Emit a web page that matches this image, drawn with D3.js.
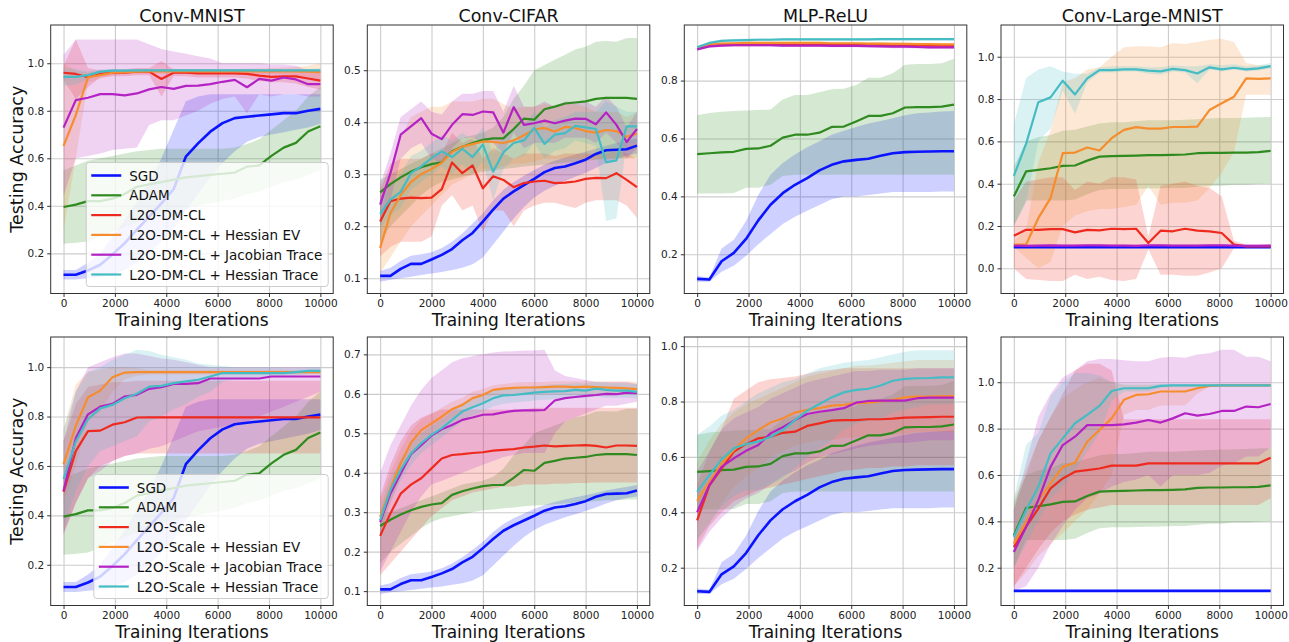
<!DOCTYPE html>
<html>
<head>
<meta charset="utf-8">
<script src="https://cdn.jsdelivr.net/npm/d3@7"></script>
<style>
  body { margin: 0; background: #fff; }
  svg { display: block; font-family: "DejaVu Sans", sans-serif; }
</style>
</head>
<body>
<div id="chart"></div>
<script>
// ---- iteration grids ----
const iters22 = [0,476,952,1429,1905,2381,2857,3333,3810,4286,4762,5238,5714,6190,6667,7143,7619,8095,8571,9048,9524,10000];
const iters26 = [0,400,800,1200,1600,2000,2400,2800,3200,3600,4000,4400,4800,5200,5600,6000,6400,6800,7200,7600,8000,8400,8800,9200,9600,10000];
const xTicks = [0,2000,4000,6000,8000,10000];

const labelsDM = ["SGD","ADAM","L2O-DM-CL","L2O-DM-CL + Hessian EV","L2O-DM-CL + Jacobian Trace","L2O-DM-CL + Hessian Trace"];
const labelsSc = ["SGD","ADAM","L2O-Scale","L2O-Scale + Hessian EV","L2O-Scale + Jacobian Trace","L2O-Scale + Hessian Trace"];

// ---- Conv-MNIST ----
const cmSgd   = [0.11,0.11,0.128,0.152,0.195,0.243,0.30,0.355,0.41,0.47,0.607,0.663,0.712,0.748,0.769,0.775,0.78,0.785,0.79,0.79,0.80,0.808];
const cmSgdLo = [0.09,0.09,0.095,0.10,0.11,0.13,0.16,0.20,0.25,0.30,0.38,0.45,0.52,0.58,0.63,0.67,0.69,0.70,0.71,0.72,0.73,0.745];
const cmSgdHi = [0.13,0.13,0.16,0.20,0.27,0.34,0.42,0.50,0.60,0.72,0.84,0.86,0.87,0.87,0.87,0.87,0.87,0.87,0.87,0.87,0.87,0.87];
const cmAdam   = [0.395,0.405,0.42,0.42,0.43,0.45,0.48,0.49,0.50,0.51,0.52,0.525,0.53,0.535,0.54,0.565,0.57,0.61,0.645,0.665,0.713,0.735];
const cmAdamLo = [0.24,0.245,0.25,0.27,0.29,0.31,0.33,0.35,0.37,0.38,0.39,0.40,0.41,0.42,0.43,0.45,0.46,0.48,0.50,0.51,0.53,0.55];
const cmAdamHi = [0.55,0.57,0.59,0.60,0.61,0.62,0.63,0.635,0.64,0.64,0.64,0.64,0.64,0.64,0.645,0.66,0.68,0.72,0.76,0.80,0.86,0.90];
const cmDm   = [0.96,0.955,0.941,0.955,0.96,0.96,0.965,0.965,0.934,0.96,0.96,0.957,0.957,0.957,0.957,0.955,0.948,0.943,0.945,0.945,0.936,0.927];
const cmDmLo = [0.93,0.85,0.90,0.94,0.945,0.945,0.95,0.95,0.86,0.945,0.945,0.94,0.94,0.94,0.94,0.935,0.925,0.92,0.92,0.915,0.90,0.89];
const cmDmHi = [0.99,1.10,0.98,0.97,0.975,0.975,0.98,0.98,1.01,0.975,0.975,0.975,0.975,0.975,0.975,0.975,0.97,0.965,0.97,0.975,0.97,0.965];
const cmEv   = [0.652,0.782,0.941,0.95,0.96,0.963,0.965,0.966,0.966,0.966,0.966,0.966,0.966,0.966,0.966,0.966,0.966,0.966,0.966,0.966,0.965,0.963];
const cmEvLo = [0.30,0.60,0.92,0.935,0.95,0.955,0.955,0.956,0.956,0.956,0.956,0.956,0.956,0.956,0.956,0.955,0.955,0.955,0.953,0.95,0.94,0.93];
const cmEvHi = [1.0,0.97,0.96,0.965,0.97,0.972,0.975,0.976,0.976,0.976,0.976,0.976,0.976,0.976,0.976,0.977,0.978,0.98,0.982,0.985,0.99,1.0];
const cmJt   = [0.729,0.845,0.855,0.87,0.87,0.865,0.873,0.89,0.90,0.892,0.905,0.906,0.912,0.922,0.93,0.899,0.934,0.927,0.94,0.932,0.912,0.912];
const cmJtLo = [0.44,0.60,0.61,0.62,0.635,0.64,0.645,0.74,0.76,0.76,0.78,0.80,0.83,0.85,0.86,0.79,0.87,0.86,0.87,0.87,0.86,0.86];
const cmJtHi = [1.035,1.10,1.10,1.10,1.10,1.10,1.10,1.08,1.06,1.05,1.04,1.03,1.02,1.0,1.0,1.0,1.0,0.995,0.995,0.99,0.97,0.965];
const cmHt   = [0.943,0.943,0.95,0.965,0.969,0.969,0.97,0.97,0.97,0.97,0.97,0.97,0.97,0.97,0.97,0.97,0.97,0.97,0.97,0.97,0.97,0.97];
const cmHtLo = [0.905,0.91,0.935,0.955,0.962,0.963,0.964,0.964,0.964,0.964,0.964,0.964,0.964,0.964,0.964,0.964,0.964,0.964,0.964,0.964,0.963,0.962];
const cmHtHi = [0.98,0.976,0.965,0.975,0.976,0.975,0.976,0.976,0.976,0.976,0.976,0.976,0.976,0.976,0.976,0.976,0.976,0.976,0.976,0.976,0.977,0.978];
const cmSc   = [0.495,0.66,0.741,0.743,0.767,0.777,0.796,0.797,0.797,0.797,0.797,0.797,0.797,0.797,0.797,0.797,0.797,0.797,0.797,0.797,0.797,0.797];
const cmScLo = [0.33,0.45,0.55,0.60,0.62,0.64,0.65,0.65,0.65,0.65,0.65,0.65,0.65,0.65,0.65,0.65,0.65,0.65,0.65,0.65,0.65,0.65];
const cmScHi = [0.70,0.85,0.92,0.93,0.94,0.94,0.945,0.945,0.945,0.945,0.945,0.945,0.945,0.945,0.945,0.945,0.945,0.945,0.945,0.945,0.945,0.945];
const cmScEv   = [0.606,0.762,0.878,0.905,0.959,0.978,0.98,0.98,0.98,0.98,0.98,0.98,0.98,0.98,0.98,0.98,0.98,0.98,0.98,0.98,0.98,0.98];
const cmScEvLo = [0.45,0.60,0.78,0.82,0.90,0.95,0.965,0.97,0.97,0.97,0.97,0.97,0.97,0.97,0.97,0.97,0.97,0.97,0.97,0.97,0.97,0.97];
const cmScEvHi = [0.75,0.93,0.98,0.99,1.0,1.0,0.995,0.99,0.99,0.99,0.99,0.99,0.99,0.99,0.99,0.99,0.99,0.99,0.99,0.99,0.99,0.99];
const cmScJt   = [0.499,0.712,0.809,0.84,0.851,0.881,0.888,0.912,0.919,0.932,0.932,0.935,0.954,0.954,0.954,0.954,0.954,0.962,0.962,0.962,0.962,0.962];
const cmScJtLo = [0.32,0.45,0.55,0.58,0.62,0.64,0.65,0.67,0.68,0.70,0.72,0.74,0.75,0.76,0.77,0.78,0.80,0.82,0.84,0.86,0.88,0.90];
const cmScJtHi = [0.70,0.90,1.0,1.02,1.04,1.055,1.055,1.045,1.035,1.03,1.02,1.01,1.0,1.0,1.0,1.0,1.0,1.0,1.0,1.0,1.0,1.0];
const cmScHt   = [0.547,0.698,0.79,0.833,0.847,0.874,0.892,0.921,0.924,0.935,0.942,0.949,0.962,0.976,0.976,0.976,0.976,0.976,0.976,0.98,0.985,0.985];
const cmScHtLo = [0.35,0.50,0.60,0.66,0.68,0.70,0.72,0.78,0.80,0.83,0.85,0.88,0.90,0.94,0.95,0.955,0.96,0.96,0.96,0.965,0.97,0.97];
const cmScHtHi = [0.75,0.90,0.98,1.0,1.03,1.05,1.07,1.065,1.05,1.04,1.03,1.015,1.01,1.005,1.0,1.0,1.0,1.0,0.995,0.995,1.0,1.0];

// ---- Conv-CIFAR ----
const ccSgd   = [0.1045,0.1045,0.118,0.1275,0.1275,0.136,0.145,0.156,0.173,0.187,0.209,0.232,0.253,0.267,0.279,0.291,0.304,0.312,0.315,0.321,0.328,0.339,0.346,0.347,0.348,0.355];
const ccSgdLo = [0.093,0.097,0.100,0.103,0.106,0.109,0.112,0.116,0.120,0.127,0.140,0.165,0.190,0.215,0.237,0.255,0.268,0.278,0.287,0.295,0.303,0.312,0.322,0.330,0.336,0.340];
const ccSgdHi = [0.114,0.120,0.133,0.143,0.146,0.150,0.158,0.170,0.186,0.205,0.225,0.250,0.270,0.285,0.297,0.308,0.318,0.326,0.332,0.338,0.343,0.349,0.355,0.360,0.364,0.369];
const ccAdam   = [0.265,0.281,0.294,0.305,0.3135,0.3195,0.323,0.344,0.353,0.36,0.366,0.369,0.369,0.387,0.407,0.405,0.425,0.43,0.436,0.438,0.44,0.445,0.447,0.447,0.447,0.445];
const ccAdamLo = [0.17,0.20,0.22,0.24,0.26,0.275,0.285,0.29,0.295,0.30,0.305,0.307,0.31,0.312,0.315,0.317,0.318,0.32,0.322,0.324,0.326,0.328,0.33,0.33,0.332,0.332];
const ccAdamHi = [0.29,0.30,0.31,0.32,0.33,0.34,0.35,0.36,0.37,0.375,0.38,0.39,0.41,0.445,0.47,0.50,0.51,0.52,0.53,0.54,0.545,0.555,0.556,0.555,0.562,0.562];
const ccDm   = [0.209,0.248,0.253,0.255,0.254,0.255,0.2715,0.3227,0.302,0.317,0.273,0.296,0.289,0.275,0.283,0.286,0.2875,0.283,0.284,0.286,0.291,0.293,0.2925,0.302,0.289,0.275];
const ccDmLo = [0.142,0.16,0.17,0.17,0.17,0.18,0.24,0.26,0.23,0.24,0.19,0.23,0.23,0.20,0.23,0.24,0.245,0.245,0.24,0.235,0.245,0.25,0.25,0.25,0.24,0.216];
const ccDmHi = [0.27,0.32,0.33,0.33,0.33,0.34,0.34,0.38,0.36,0.37,0.33,0.35,0.34,0.33,0.34,0.34,0.34,0.335,0.34,0.34,0.34,0.34,0.34,0.345,0.34,0.33];
const ccEv   = [0.158,0.225,0.26,0.285,0.30,0.31,0.322,0.343,0.353,0.358,0.363,0.362,0.36,0.365,0.375,0.386,0.389,0.382,0.391,0.389,0.383,0.38,0.385,0.383,0.372,0.378];
const ccEvLo = [0.11,0.14,0.17,0.20,0.22,0.24,0.26,0.28,0.29,0.30,0.31,0.31,0.315,0.32,0.32,0.325,0.33,0.33,0.33,0.33,0.33,0.33,0.33,0.33,0.33,0.33];
const ccEvHi = [0.20,0.30,0.37,0.41,0.42,0.43,0.43,0.44,0.44,0.44,0.445,0.445,0.435,0.425,0.43,0.43,0.435,0.43,0.435,0.435,0.43,0.42,0.42,0.42,0.41,0.42];
const ccJt   = [0.2414,0.302,0.376,0.392,0.408,0.378,0.3675,0.395,0.4155,0.414,0.4206,0.419,0.38,0.429,0.395,0.398,0.403,0.398,0.403,0.407,0.4066,0.396,0.419,0.395,0.362,0.387];
const ccJtLo = [0.20,0.25,0.33,0.35,0.36,0.33,0.32,0.35,0.37,0.37,0.36,0.36,0.34,0.38,0.35,0.36,0.36,0.36,0.37,0.37,0.37,0.36,0.38,0.36,0.33,0.35];
const ccJtHi = [0.28,0.34,0.41,0.425,0.44,0.42,0.415,0.44,0.455,0.455,0.46,0.46,0.42,0.47,0.43,0.43,0.44,0.43,0.44,0.44,0.44,0.43,0.45,0.43,0.39,0.42];
const ccHt   = [0.2235,0.251,0.266,0.302,0.315,0.331,0.344,0.333,0.349,0.333,0.357,0.305,0.342,0.36,0.365,0.389,0.3585,0.376,0.379,0.393,0.39,0.387,0.3227,0.3266,0.392,0.392];
const ccHtLo = [0.195,0.22,0.235,0.27,0.285,0.30,0.315,0.30,0.32,0.30,0.325,0.25,0.31,0.33,0.335,0.36,0.33,0.345,0.35,0.365,0.36,0.355,0.21,0.215,0.36,0.36];
const ccHtHi = [0.25,0.28,0.30,0.335,0.345,0.36,0.375,0.365,0.38,0.365,0.39,0.34,0.375,0.39,0.395,0.42,0.39,0.405,0.41,0.42,0.42,0.42,0.44,0.43,0.42,0.42];
const ccSc   = [0.24,0.297,0.347,0.37,0.386,0.411,0.436,0.445,0.447,0.45,0.452,0.456,0.458,0.46,0.464,0.466,0.469,0.467,0.468,0.469,0.47,0.468,0.464,0.469,0.469,0.468];
const ccScLo = [0.14,0.17,0.20,0.23,0.26,0.29,0.31,0.33,0.34,0.35,0.355,0.36,0.365,0.365,0.37,0.37,0.37,0.372,0.372,0.374,0.374,0.375,0.375,0.375,0.375,0.375];
const ccScHi = [0.34,0.42,0.48,0.52,0.54,0.55,0.56,0.56,0.56,0.56,0.56,0.56,0.56,0.56,0.56,0.565,0.565,0.565,0.565,0.565,0.565,0.565,0.565,0.565,0.565,0.565];
const ccScEv   = [0.288,0.36,0.424,0.476,0.508,0.525,0.542,0.561,0.572,0.589,0.597,0.61,0.613,0.615,0.616,0.616,0.617,0.618,0.618,0.617,0.618,0.617,0.616,0.615,0.614,0.612];
const ccScEvLo = [0.25,0.32,0.39,0.445,0.48,0.50,0.52,0.54,0.55,0.57,0.58,0.595,0.60,0.60,0.60,0.60,0.60,0.60,0.60,0.60,0.60,0.60,0.60,0.60,0.60,0.598];
const ccScEvHi = [0.33,0.40,0.46,0.505,0.535,0.55,0.565,0.58,0.59,0.605,0.612,0.622,0.625,0.628,0.63,0.63,0.63,0.632,0.632,0.632,0.632,0.632,0.632,0.632,0.632,0.63];
const ccScJt   = [0.275,0.347,0.398,0.447,0.47,0.494,0.51,0.521,0.534,0.54,0.547,0.548,0.553,0.557,0.558,0.558,0.559,0.583,0.589,0.592,0.595,0.597,0.60,0.599,0.603,0.602];
const ccScJtLo = [0.15,0.20,0.25,0.30,0.34,0.37,0.38,0.39,0.40,0.41,0.42,0.43,0.44,0.445,0.45,0.45,0.45,0.50,0.53,0.54,0.55,0.56,0.57,0.57,0.575,0.58];
const ccScJtHi = [0.40,0.47,0.52,0.57,0.61,0.64,0.66,0.68,0.69,0.695,0.70,0.705,0.707,0.708,0.71,0.71,0.712,0.66,0.645,0.64,0.635,0.63,0.63,0.63,0.63,0.625];
const ccScHt   = [0.28,0.356,0.407,0.449,0.475,0.496,0.513,0.534,0.555,0.566,0.576,0.589,0.596,0.597,0.60,0.603,0.605,0.606,0.607,0.61,0.608,0.613,0.61,0.608,0.608,0.605];
const ccScHtLo = [0.25,0.325,0.38,0.42,0.45,0.47,0.49,0.51,0.53,0.545,0.555,0.568,0.575,0.578,0.58,0.583,0.585,0.586,0.588,0.59,0.59,0.593,0.59,0.59,0.59,0.588];
const ccScHtHi = [0.31,0.385,0.435,0.475,0.50,0.52,0.535,0.555,0.575,0.585,0.595,0.607,0.614,0.615,0.618,0.62,0.622,0.624,0.625,0.627,0.626,0.63,0.628,0.627,0.627,0.625];

// ---- MLP-ReLU ----
const mrSgd   = [0.115,0.1126,0.176,0.2046,0.253,0.317,0.371,0.411,0.44,0.463,0.49,0.509,0.521,0.526,0.53,0.54,0.549,0.553,0.554,0.555,0.556,0.556];
const mrSgdLo = [0.105,0.105,0.14,0.16,0.195,0.235,0.27,0.305,0.33,0.35,0.37,0.39,0.40,0.40,0.405,0.41,0.415,0.415,0.415,0.415,0.417,0.417];
const mrSgdHi = [0.125,0.12,0.22,0.25,0.315,0.405,0.475,0.515,0.545,0.57,0.59,0.613,0.627,0.64,0.652,0.66,0.67,0.68,0.687,0.69,0.693,0.695];
const mrAdam   = [0.546,0.549,0.552,0.554,0.564,0.5655,0.575,0.603,0.613,0.613,0.62,0.64,0.641,0.659,0.678,0.678,0.687,0.707,0.708,0.708,0.71,0.717];
const mrAdamLo = [0.41,0.41,0.41,0.412,0.43,0.43,0.44,0.47,0.475,0.475,0.475,0.475,0.475,0.475,0.475,0.475,0.475,0.475,0.475,0.475,0.475,0.475];
const mrAdamHi = [0.68,0.688,0.692,0.695,0.697,0.698,0.70,0.735,0.75,0.75,0.76,0.77,0.772,0.785,0.81,0.81,0.825,0.855,0.857,0.857,0.86,0.875];
const mrDm   = [0.912,0.922,0.925,0.926,0.926,0.926,0.926,0.926,0.925,0.925,0.925,0.925,0.924,0.924,0.924,0.923,0.923,0.922,0.922,0.921,0.921,0.92];
const mrDmLo = [0.907,0.917,0.92,0.921,0.921,0.921,0.921,0.921,0.92,0.92,0.92,0.92,0.919,0.919,0.919,0.918,0.918,0.917,0.917,0.916,0.916,0.915];
const mrDmHi = [0.917,0.927,0.93,0.931,0.931,0.931,0.931,0.931,0.93,0.93,0.93,0.93,0.929,0.929,0.929,0.928,0.928,0.927,0.927,0.926,0.926,0.925];
const mrEv   = [0.912,0.925,0.928,0.929,0.93,0.93,0.93,0.93,0.93,0.93,0.93,0.929,0.929,0.929,0.928,0.928,0.927,0.927,0.926,0.926,0.925,0.925];
const mrEvLo = [0.907,0.92,0.923,0.924,0.925,0.925,0.925,0.925,0.925,0.925,0.925,0.924,0.924,0.924,0.923,0.923,0.922,0.922,0.921,0.921,0.92,0.92];
const mrEvHi = [0.917,0.93,0.933,0.934,0.935,0.935,0.935,0.935,0.935,0.935,0.935,0.934,0.934,0.934,0.933,0.933,0.932,0.932,0.931,0.931,0.93,0.93];
const mrJt   = [0.908,0.918,0.921,0.922,0.922,0.922,0.922,0.921,0.921,0.921,0.921,0.92,0.92,0.92,0.919,0.918,0.917,0.917,0.916,0.915,0.915,0.915];
const mrJtLo = [0.903,0.913,0.916,0.917,0.917,0.917,0.917,0.916,0.916,0.916,0.916,0.915,0.915,0.915,0.914,0.913,0.912,0.912,0.911,0.91,0.91,0.91];
const mrJtHi = [0.913,0.923,0.926,0.927,0.927,0.927,0.927,0.926,0.926,0.926,0.926,0.925,0.925,0.925,0.924,0.923,0.922,0.922,0.921,0.92,0.92,0.92];
const mrHt   = [0.915,0.93,0.937,0.939,0.94,0.941,0.941,0.942,0.942,0.942,0.942,0.942,0.942,0.942,0.942,0.943,0.943,0.943,0.943,0.943,0.943,0.943];
const mrHtLo = [0.91,0.925,0.932,0.934,0.935,0.936,0.936,0.937,0.937,0.937,0.937,0.937,0.937,0.937,0.937,0.938,0.938,0.938,0.938,0.938,0.938,0.938];
const mrHtHi = [0.92,0.935,0.942,0.944,0.945,0.946,0.946,0.947,0.947,0.947,0.947,0.947,0.947,0.947,0.947,0.948,0.948,0.948,0.948,0.948,0.948,0.948];
const mrSc   = [0.371,0.496,0.558,0.619,0.646,0.667,0.673,0.687,0.691,0.712,0.721,0.731,0.733,0.733,0.736,0.736,0.738,0.742,0.743,0.744,0.745,0.745];
const mrScLo = [0.27,0.35,0.40,0.44,0.46,0.48,0.49,0.50,0.51,0.52,0.53,0.54,0.55,0.555,0.56,0.56,0.565,0.565,0.57,0.57,0.57,0.57];
const mrScHi = [0.50,0.62,0.70,0.81,0.84,0.87,0.88,0.885,0.89,0.90,0.91,0.915,0.92,0.92,0.92,0.92,0.92,0.92,0.92,0.92,0.92,0.92];
const mrScEv   = [0.441,0.51,0.576,0.625,0.667,0.697,0.724,0.739,0.76,0.77,0.776,0.785,0.788,0.794,0.796,0.80,0.806,0.815,0.818,0.818,0.82,0.82];
const mrScEvLo = [0.30,0.36,0.43,0.49,0.53,0.56,0.60,0.62,0.64,0.65,0.66,0.66,0.67,0.67,0.675,0.68,0.68,0.685,0.69,0.69,0.69,0.69];
const mrScEvHi = [0.58,0.66,0.72,0.76,0.79,0.81,0.83,0.85,0.87,0.89,0.90,0.91,0.92,0.93,0.93,0.935,0.94,0.945,0.95,0.95,0.95,0.95];
const mrScJt   = [0.40,0.498,0.564,0.595,0.622,0.643,0.685,0.707,0.733,0.755,0.763,0.769,0.776,0.796,0.802,0.803,0.803,0.803,0.812,0.814,0.814,0.814];
const mrScJtLo = [0.26,0.33,0.38,0.42,0.45,0.47,0.50,0.53,0.55,0.58,0.60,0.61,0.62,0.63,0.64,0.645,0.65,0.65,0.655,0.66,0.66,0.66];
const mrScJtHi = [0.55,0.62,0.70,0.74,0.76,0.78,0.81,0.83,0.85,0.87,0.88,0.89,0.90,0.91,0.91,0.915,0.915,0.915,0.92,0.92,0.92,0.92];
const mrScHt   = [0.474,0.534,0.591,0.631,0.646,0.655,0.673,0.697,0.733,0.767,0.791,0.815,0.833,0.842,0.846,0.858,0.875,0.882,0.884,0.885,0.887,0.887];
const mrScHtLo = [0.30,0.36,0.42,0.46,0.48,0.48,0.50,0.52,0.56,0.60,0.63,0.66,0.70,0.72,0.73,0.74,0.76,0.77,0.78,0.79,0.79,0.79];
const mrScHtHi = [0.68,0.71,0.75,0.77,0.80,0.83,0.85,0.87,0.88,0.90,0.92,0.93,0.94,0.945,0.95,0.96,0.97,0.98,0.985,0.985,0.985,0.985];

// ---- Conv-Large-MNIST ----
const clSgd   = [0.1,0.1,0.1,0.1,0.1,0.1,0.1,0.1,0.1,0.1,0.1,0.1,0.1,0.1,0.1,0.1,0.1,0.1,0.1,0.1,0.1,0.1];
const clSgdLo = [0.097,0.097,0.097,0.097,0.097,0.097,0.097,0.097,0.097,0.097,0.097,0.097,0.097,0.097,0.097,0.097,0.097,0.097,0.097,0.097,0.097,0.097];
const clSgdHi = [0.103,0.103,0.103,0.103,0.103,0.103,0.103,0.103,0.103,0.103,0.103,0.103,0.103,0.103,0.103,0.103,0.103,0.103,0.103,0.103,0.103,0.103];
const clAdam   = [0.34,0.458,0.465,0.473,0.484,0.486,0.509,0.528,0.53,0.531,0.533,0.535,0.535,0.536,0.538,0.544,0.546,0.546,0.547,0.547,0.549,0.555];
const clAdamLo = [0.20,0.32,0.32,0.32,0.32,0.325,0.35,0.37,0.375,0.375,0.376,0.377,0.378,0.38,0.38,0.385,0.39,0.39,0.395,0.395,0.398,0.40];
const clAdamHi = [0.48,0.60,0.62,0.63,0.65,0.655,0.67,0.685,0.69,0.69,0.695,0.70,0.70,0.70,0.702,0.705,0.708,0.71,0.71,0.712,0.714,0.715];
const clDm   = [0.154,0.182,0.182,0.185,0.185,0.17,0.182,0.179,0.187,0.185,0.187,0.12,0.178,0.175,0.187,0.178,0.175,0.167,0.112,0.104,0.104,0.104];
const clDmLo = [0.0,-0.05,-0.055,-0.06,-0.06,-0.03,-0.05,-0.04,-0.055,-0.06,-0.05,0.09,-0.03,-0.03,-0.035,-0.035,-0.02,0.0,0.095,0.095,0.095,0.095];
const clDmHi = [0.32,0.41,0.42,0.43,0.43,0.37,0.41,0.40,0.43,0.43,0.42,0.15,0.39,0.40,0.41,0.39,0.38,0.34,0.13,0.113,0.113,0.113];
const clEv   = [0.112,0.112,0.237,0.332,0.544,0.547,0.571,0.557,0.615,0.654,0.667,0.66,0.66,0.668,0.668,0.67,0.748,0.78,0.811,0.898,0.895,0.898];
const clEvLo = [0.10,0.05,0.0,0.03,0.20,0.25,0.27,0.28,0.28,0.29,0.30,0.39,0.30,0.31,0.31,0.32,0.38,0.45,0.55,0.82,0.82,0.82];
const clEvHi = [0.13,0.18,0.50,0.65,0.88,0.90,0.94,0.95,1.0,1.045,1.05,1.05,1.045,1.065,1.06,1.07,1.08,1.085,1.07,0.97,0.96,0.96];
const clJt   = [0.107,0.106,0.107,0.108,0.107,0.107,0.108,0.108,0.107,0.107,0.106,0.108,0.108,0.107,0.107,0.107,0.108,0.108,0.107,0.106,0.106,0.107];
const clJtLo = [0.101,0.1,0.101,0.102,0.101,0.101,0.102,0.102,0.101,0.101,0.1,0.102,0.102,0.101,0.101,0.101,0.102,0.102,0.101,0.1,0.1,0.101];
const clJtHi = [0.113,0.112,0.113,0.114,0.113,0.113,0.114,0.114,0.113,0.113,0.112,0.114,0.114,0.113,0.113,0.113,0.114,0.114,0.113,0.112,0.112,0.113];
const clHt   = [0.437,0.588,0.785,0.808,0.887,0.822,0.898,0.937,0.937,0.94,0.94,0.934,0.931,0.943,0.937,0.921,0.95,0.94,0.948,0.94,0.945,0.956];
const clHtLo = [0.20,0.31,0.60,0.66,0.84,0.73,0.88,0.925,0.925,0.93,0.93,0.92,0.915,0.93,0.925,0.875,0.94,0.93,0.94,0.93,0.935,0.945];
const clHtHi = [0.68,0.90,0.94,0.955,0.93,0.92,0.92,0.95,0.955,0.955,0.955,0.95,0.95,0.96,0.955,0.955,0.965,0.96,0.965,0.955,0.96,0.97];
const clSc   = [0.289,0.376,0.455,0.542,0.585,0.614,0.621,0.628,0.64,0.64,0.64,0.65,0.65,0.65,0.65,0.65,0.65,0.65,0.65,0.65,0.65,0.674];
const clScLo = [0.12,0.20,0.28,0.35,0.40,0.43,0.45,0.46,0.47,0.47,0.47,0.47,0.47,0.47,0.47,0.47,0.47,0.47,0.47,0.47,0.47,0.50];
const clScHi = [0.45,0.60,0.75,0.85,0.95,1.05,1.08,1.08,1.05,0.84,0.84,0.84,0.84,0.84,0.84,0.84,0.84,0.84,0.84,0.84,0.84,0.84];
const clScEv   = [0.304,0.397,0.491,0.563,0.635,0.653,0.743,0.794,0.844,0.924,0.945,0.948,0.96,0.96,0.96,0.974,0.984,0.986,0.986,0.986,0.986,0.986];
const clScEvLo = [0.12,0.18,0.25,0.30,0.35,0.40,0.45,0.52,0.60,0.86,0.88,0.88,0.90,0.90,0.90,0.95,0.98,0.982,0.982,0.982,0.982,0.982];
const clScEvHi = [0.50,0.62,0.75,0.85,0.93,0.97,1.0,1.02,1.0,0.99,0.99,0.99,0.99,0.99,0.99,0.99,0.99,0.99,0.99,0.99,0.99,0.99];
const clScJt   = [0.268,0.376,0.491,0.635,0.729,0.765,0.815,0.815,0.815,0.818,0.826,0.837,0.826,0.844,0.866,0.856,0.863,0.876,0.876,0.895,0.892,0.906];
const clScJtLo = [0.10,0.12,0.20,0.30,0.38,0.45,0.50,0.52,0.55,0.57,0.58,0.60,0.55,0.60,0.60,0.60,0.61,0.64,0.65,0.68,0.68,0.72];
const clScJtHi = [0.45,0.65,0.85,0.95,1.02,1.05,1.09,1.10,1.10,1.095,1.09,1.09,1.105,1.11,1.105,1.12,1.125,1.14,1.14,1.11,1.11,1.09];
const clScHt   = [0.333,0.448,0.549,0.693,0.758,0.823,0.859,0.898,0.962,0.974,0.974,0.974,0.984,0.986,0.986,0.986,0.986,0.986,0.986,0.986,0.986,0.986];
const clScHtLo = [0.20,0.30,0.40,0.50,0.55,0.62,0.70,0.78,0.92,0.96,0.96,0.96,0.975,0.98,0.98,0.98,0.98,0.98,0.98,0.98,0.98,0.98];
const clScHtHi = [0.50,0.73,0.78,0.94,1.0,1.04,1.04,1.03,1.0,0.99,0.99,0.99,0.993,0.992,0.992,0.992,0.992,0.992,0.992,0.992,0.992,0.992];

// line colours: SGD, ADAM, base L2O, + Hessian EV, + Jacobian Trace, + Hessian Trace
const colors = ["#0a14ff", "#2f8a1f", "#ee2a1e", "#f58d2f", "#b422c4", "#45bcc4"];

const panels = [
  { col: 0, row: 0, title: "Conv-MNIST", iters: iters22, yDomain: [0.031, 1.161], yTicks: [0.2,0.4,0.6,0.8,1.0], legend: labelsDM,
    series: [[cmSgd,cmSgdLo,cmSgdHi],[cmAdam,cmAdamLo,cmAdamHi],[cmDm,cmDmLo,cmDmHi],[cmEv,cmEvLo,cmEvHi],[cmJt,cmJtLo,cmJtHi],[cmHt,cmHtLo,cmHtHi]] },
  { col: 1, row: 0, title: "Conv-CIFAR", iters: iters26, yDomain: [0.0706, 0.587], yTicks: [0.1,0.2,0.3,0.4,0.5],
    series: [[ccSgd,ccSgdLo,ccSgdHi],[ccAdam,ccAdamLo,ccAdamHi],[ccDm,ccDmLo,ccDmHi],[ccEv,ccEvLo,ccEvHi],[ccJt,ccJtLo,ccJtHi],[ccHt,ccHtLo,ccHtHi]] },
  { col: 2, row: 0, title: "MLP-ReLU", iters: iters22, yDomain: [0.0645, 0.992], yTicks: [0.2,0.4,0.6,0.8],
    series: [[mrSgd,mrSgdLo,mrSgdHi],[mrAdam,mrAdamLo,mrAdamHi],[mrDm,mrDmLo,mrDmHi],[mrEv,mrEvLo,mrEvHi],[mrJt,mrJtLo,mrJtHi],[mrHt,mrHtLo,mrHtHi]] },
  { col: 3, row: 0, title: "Conv-Large-MNIST", iters: iters22, yDomain: [-0.119, 1.15], yTicks: [0.0,0.2,0.4,0.6,0.8,1.0],
    series: [[clSgd,clSgdLo,clSgdHi],[clAdam,clAdamLo,clAdamHi],[clDm,clDmLo,clDmHi],[clEv,clEvLo,clEvHi],[clJt,clJtLo,clJtHi],[clHt,clHtLo,clHtHi]] },
  { col: 0, row: 1, iters: iters22, yDomain: [0.035, 1.122], yTicks: [0.2,0.4,0.6,0.8,1.0], legend: labelsSc,
    series: [[cmSgd,cmSgdLo,cmSgdHi],[cmAdam,cmAdamLo,cmAdamHi],[cmSc,cmScLo,cmScHi],[cmScEv,cmScEvLo,cmScEvHi],[cmScJt,cmScJtLo,cmScJtHi],[cmScHt,cmScHtLo,cmScHtHi]] },
  { col: 1, row: 1, iters: iters26, yDomain: [0.0636, 0.744], yTicks: [0.1,0.2,0.3,0.4,0.5,0.6,0.7],
    series: [[ccSgd,ccSgdLo,ccSgdHi],[ccAdam,ccAdamLo,ccAdamHi],[ccSc,ccScLo,ccScHi],[ccScEv,ccScEvLo,ccScEvHi],[ccScJt,ccScJtLo,ccScJtHi],[ccScHt,ccScHtLo,ccScHtHi]] },
  { col: 2, row: 1, iters: iters22, yDomain: [0.0635, 1.033], yTicks: [0.2,0.4,0.6,0.8,1.0],
    series: [[mrSgd,mrSgdLo,mrSgdHi],[mrAdam,mrAdamLo,mrAdamHi],[mrSc,mrScLo,mrScHi],[mrScEv,mrScEvLo,mrScEvHi],[mrScJt,mrScJtLo,mrScJtHi],[mrScHt,mrScHtLo,mrScHtHi]] },
  { col: 3, row: 1, iters: iters22, yDomain: [0.037, 1.195], yTicks: [0.2,0.4,0.6,0.8,1.0],
    series: [[clSgd,clSgdLo,clSgdHi],[clAdam,clAdamLo,clAdamHi],[clSc,clScLo,clScHi],[clScEv,clScEvLo,clScEvHi],[clScJt,clScJtLo,clScJtHi],[clScHt,clScHtLo,clScHtHi]] }
];

const W = 1289, H = 642;
const colLeft = [50.7, 367.3, 684.3, 1001];
const rowTop = [25, 337];
const plotW = 282.5, plotH = 268.5;

const lineWidth = i => (i === 0 ? 2.6 : 2.2);

const svg = d3.select("#chart").append("svg").attr("width", W).attr("height", H);

panels.forEach((p, pi) => {
  const g = svg.append("g").attr("transform", `translate(${colLeft[p.col]},${rowTop[p.row]})`);
  const x = d3.scaleLinear().domain([-500, 10500]).range([0, plotW]);
  const y = d3.scaleLinear().domain(p.yDomain).range([plotH, 0]);

  // grid
  g.append("g").attr("transform", `translate(0,${plotH})`)
    .call(d3.axisBottom(x).tickValues(xTicks).tickSize(-plotH).tickFormat(""))
    .call(a => a.select(".domain").remove())
    .call(a => a.selectAll("line").attr("stroke", "#cccccc").attr("stroke-width", 1.1));
  g.append("g")
    .call(d3.axisLeft(y).tickValues(p.yTicks).tickSize(-plotW).tickFormat(""))
    .call(a => a.select(".domain").remove())
    .call(a => a.selectAll("line").attr("stroke", "#cccccc").attr("stroke-width", 1.1));

  const clipId = "clip" + pi;
  g.append("clipPath").attr("id", clipId).append("rect").attr("width", plotW).attr("height", plotH);
  const plot = g.append("g").attr("clip-path", `url(#${clipId})`);

  const idx = d3.range(p.iters.length);
  // bands first
  p.series.forEach(([mean, lo, hi], si) => {
    const area = d3.area().x(i => x(p.iters[i])).y0(i => y(lo[i])).y1(i => y(hi[i]));
    plot.append("path").datum(idx).attr("d", area)
      .attr("fill", colors[si]).attr("fill-opacity", 0.2);
  });
  // then mean lines
  p.series.forEach(([mean], si) => {
    const line = d3.line().x(i => x(p.iters[i])).y(i => y(mean[i]));
    plot.append("path").datum(idx).attr("d", line)
      .attr("fill", "none").attr("stroke", colors[si])
      .attr("stroke-width", lineWidth(si))
      .attr("stroke-linejoin", "round");
  });

  // frame
  g.append("rect").attr("width", plotW).attr("height", plotH)
    .attr("fill", "none").attr("stroke", "#333").attr("stroke-width", 1);

  // axes
  const xa = g.append("g").attr("transform", `translate(0,${plotH})`)
    .call(d3.axisBottom(x).tickValues(xTicks).tickSize(3.5).tickPadding(3).tickFormat(d3.format("d")));
  const ya = g.append("g")
    .call(d3.axisLeft(y).tickValues(p.yTicks).tickSize(3.5).tickPadding(3).tickFormat(d3.format(".1f")));
  [xa, ya].forEach(a => {
    a.select(".domain").remove();
    a.selectAll("line").attr("stroke", "#333");
    a.selectAll("text").attr("fill", "#222").style("font-size", "10.5px").style("font-family", "DejaVu Sans");
  });

  // labels
  if (p.title) {
    g.append("text").attr("x", plotW / 2).attr("y", -3).attr("text-anchor", "middle")
      .style("font-size", "17.5px").attr("fill", "#111").text(p.title);
  }
  g.append("text").attr("x", plotW / 2).attr("y", plotH + 32).attr("text-anchor", "middle")
    .style("font-size", "17px").attr("fill", "#111").text("Training Iterations");
  if (p.col === 0) {
    g.append("text").attr("transform", `translate(${16.7 - colLeft[0]},${plotH / 2}) rotate(-90)`)
      .attr("text-anchor", "middle").attr("dominant-baseline", "central")
      .style("font-size", "17.5px").attr("fill", "#111").text("Testing Accuracy");
  }

  // legend, lower right
  if (p.legend) {
    const lg = g.append("g");
    const box = lg.append("rect").attr("rx", 3).attr("ry", 3)
      .attr("fill", "#fff").attr("fill-opacity", 0.8).attr("stroke", "#cccccc");
    const rowH = 19.8, boxH = 124;
    const texts = p.legend.map(name => lg.append("text")
      .attr("dominant-baseline", "central").style("font-size", "13.5px").attr("fill", "#111").text(name));
    const maxW = d3.max(texts, t => t.node().getComputedTextLength());
    const boxW = 43 + maxW + 6;
    const bx = plotW - 5 - boxW, by = plotH - 7 - boxH;
    box.attr("x", bx).attr("y", by).attr("width", boxW).attr("height", boxH);
    p.legend.forEach((name, li) => {
      const cy = by + 13 + li * rowH;
      lg.append("line").attr("x1", bx + 5).attr("x2", bx + 35).attr("y1", cy).attr("y2", cy)
        .attr("stroke", colors[li]).attr("stroke-width", lineWidth(li));
      texts[li].attr("x", bx + 43).attr("y", cy);
    });
  }
});
</script>
</body>
</html>
